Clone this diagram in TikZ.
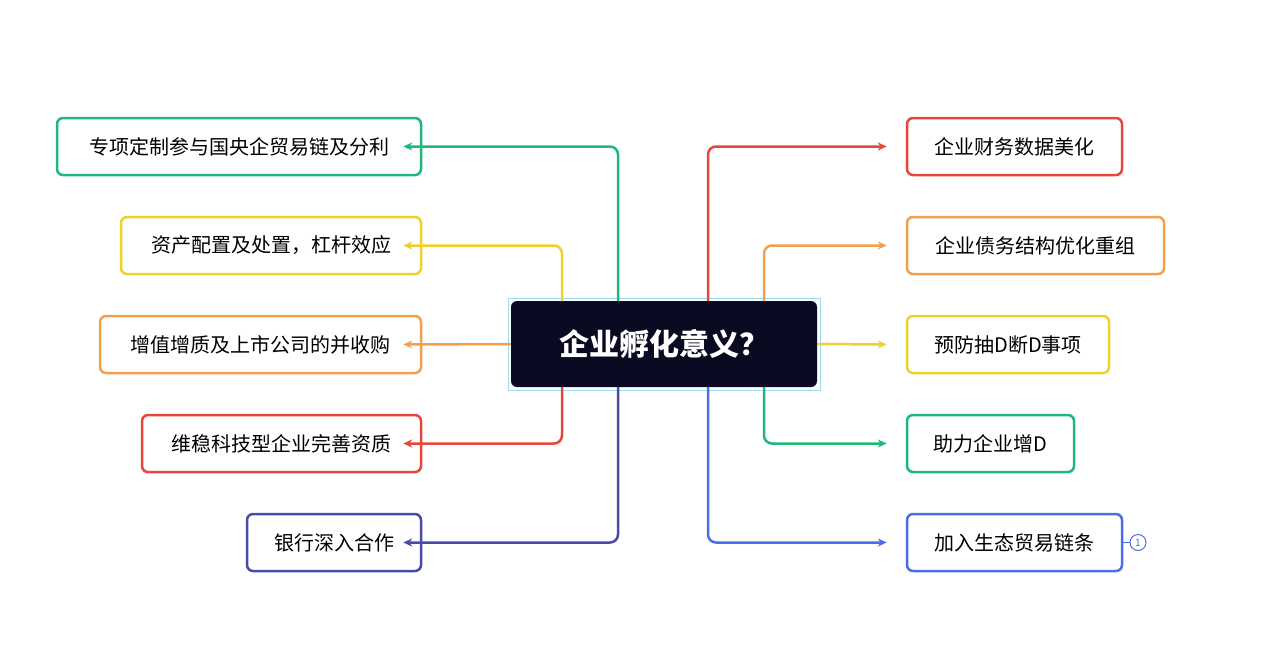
\documentclass[tikz,border=0pt]{standalone}
\usepackage{fontspec}
\setmainfont{Noto Sans CJK SC}
\usetikzlibrary{arrows.meta}
\definecolor{cg}{HTML}{1FB87A}\definecolor{cy}{HTML}{F0D02A}\definecolor{co}{HTML}{F0A050}
\definecolor{cr}{HTML}{E8453C}\definecolor{ci}{HTML}{4A4AA8}\definecolor{cb}{HTML}{4A6EE8}
\definecolor{dark}{HTML}{0A0A23}\definecolor{sel}{HTML}{9BDCF0}
\begin{document}
\begin{tikzpicture}[x=1pt,y=-1pt,
 leaf/.style={draw=#1,line width=2.5pt,rounded corners=6pt,fill=white,inner sep=0pt,font=\fontsize{20}{24}\selectfont},
 conn/.style={draw=#1,line width=2.5pt,rounded corners=8pt,-{Stealth[length=9pt,width=8pt]}}]
\useasboundingbox (0,0) rectangle (1280,672);
\draw[sel,line width=1pt] (508,298) rectangle (820,390);
\node[fill=dark,rounded corners=6pt,minimum width=306pt,minimum height=86pt,text=white,font=\fontsize{30}{34}\selectfont\bfseries] (c) at (664,344) {企业孵化意义？};
\def\lf#1#2#3#4#5{\node[leaf=#1,minimum width=#3pt,minimum height=57pt] (#4) at (#2) {#5};}
\lf{cg}{239,146.5}{364}{l1}{专项定制参与国央企贸易链及分利}
\lf{cy}{271,245.5}{300}{l2}{资产配置及处置，杠杆效应}
\lf{co}{260.5,344.5}{321}{l3}{增值增质及上市公司的并收购}
\lf{cr}{281.5,443.5}{279}{l4}{维稳科技型企业完善资质}
\lf{ci}{334,542.5}{174}{l5}{银行深入合作}
\lf{cr}{1014.5,146.5}{215}{r1}{企业财务数据美化}
\lf{co}{1035.5,245.5}{257}{r2}{企业债务结构优化重组}
\lf{cy}{1008,344.5}{202}{r3}{预防抽D断D事项}
\lf{cg}{990.5,443.5}{167}{r4}{助力企业增D}
\lf{cb}{1014.5,542.5}{215}{r5}{加入生态贸易链条}
\draw[conn=cg] (618,301) -- (618,146.5) -- ([xshift=-19pt]l1.east);
\draw[conn=cy] (562,301) -- (562,245.5) -- ([xshift=-19pt]l2.east);
\draw[conn=co] (c.west) -- ([xshift=-19pt]l3.east);
\draw[conn=cr] (562,387) -- (562,443.5) -- ([xshift=-19pt]l4.east);
\draw[conn=ci] (618,387) -- (618,542.5) -- ([xshift=-19pt]l5.east);
\draw[conn=cr] (708,301) -- (708,146.5) -- ([xshift=-19pt]r1.west);
\draw[conn=co] (764,301) -- (764,245.5) -- ([xshift=-19pt]r2.west);
\draw[conn=cy] (c.east) -- ([xshift=-19pt]r3.west);
\draw[conn=cg] (764,387) -- (764,443.5) -- ([xshift=-19pt]r4.west);
\draw[conn=cb] (708,387) -- (708,542.5) -- ([xshift=-19pt]r5.west);
\node[draw=cb,circle,line width=1pt,inner sep=0pt,minimum size=16pt,text=cb,font=\fontsize{10}{12}\selectfont] (n1) at (1138,542.5) {1};
\draw[cb,line width=1pt] (r5.east) -- (n1.west);
\end{tikzpicture}
\end{document}
